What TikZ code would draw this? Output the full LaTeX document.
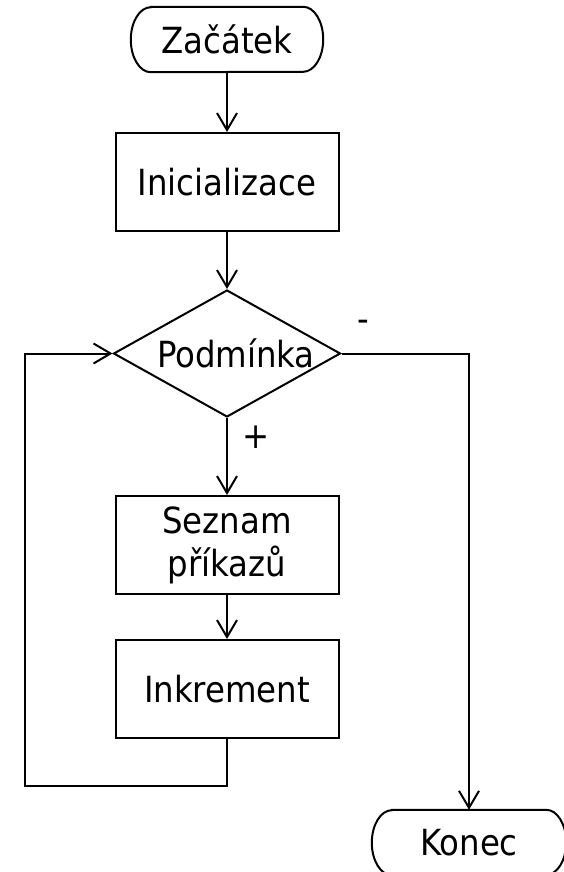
\documentclass[tikz,border=0pt]{standalone}
\usepackage{fontspec}
\setmainfont{DejaVu Sans Condensed}
\usetikzlibrary{shapes.geometric,arrows.meta}

\begin{document}
\begin{tikzpicture}[x=1pt,y=-1pt,
  every node/.style={font=\fontsize{36}{43}\selectfont, inner sep=0pt},
  line/.style={line width=2pt},
  flow/.style={line, -{Straight Barb[length=17pt,width=20pt,line width=2pt]}},
  process/.style={draw, line, rectangle, minimum width=223pt, minimum height=98pt, align=center},
  decision/.style={draw, line, diamond, minimum width=227pt, minimum height=127pt},
  terminal/.style={rectangle, minimum width=192pt, minimum height=65pt},
  endcap/.store in=\capr, endcap=20pt
]
\useasboundingbox (0,0) rectangle (564,872);

% flow nodes
\node[terminal] (s) at (227,39.5) {Začátek};
\node[process] (i) at (227,182) {Inicializace};
\node[decision] (d) at (227,353.5) {\makebox[0pt]{\hspace{18pt}Podmínka}};
\node[process] (p) at (227,545) {Seznam\\příkazů};
\node[process] (k) at (227,689) {Inkrement};
\node[terminal, minimum width=194pt] (e) at (469,842.5) {Konec};

% rounded outlines of the start/end terminals
\foreach \n in {s,e}
  \draw[line] ([xshift=20pt]\n.north west) -- ([xshift=-20pt]\n.north east)
    arc[start angle=90, end angle=-90, x radius=20pt, y radius=32.5pt]
    -- ([xshift=20pt]\n.south west)
    arc[start angle=270, end angle=90, x radius=20pt, y radius=32.5pt] -- cycle;

% corner of the loop back to the condition
\coordinate (lb) at (25,786);

% connectors
\draw[flow] (s) -- (i);
\draw[flow] (i) -- (d);
\draw[flow] (d) -- (p);
\draw[flow] (p) -- (k);
\draw[flow] (k.south) |- (lb) |- (d.west);
\draw[flow] (d.east) -| (e.north);

% branch labels
\node (minus) at (363,326) {-};
\node (plus) at (256,437) {+};
\end{tikzpicture}
\end{document}
